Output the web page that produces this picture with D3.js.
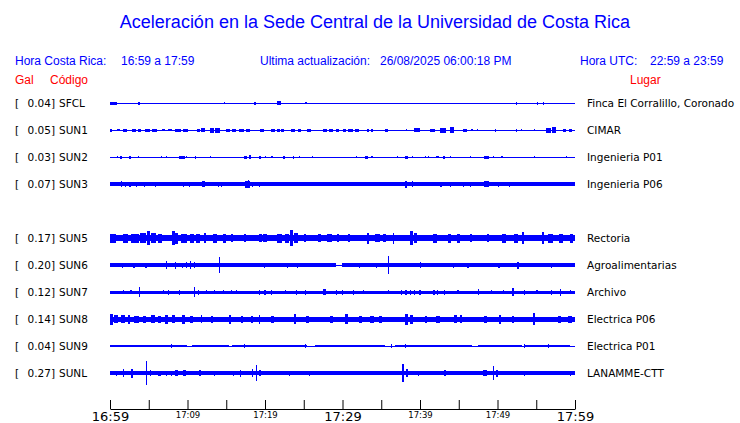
<!DOCTYPE html>
<html>
<head>
<meta charset="utf-8">
<script src="https://cdn.jsdelivr.net/npm/d3@7"></script>
<style>
  body { margin: 0; background: #fff; }
  svg { display: block; }
  .head { font-family: "Liberation Sans", Arial, sans-serif; }
  .lab { font-family: "DejaVu Sans", sans-serif; font-size: 10.5px; fill: #000; }
</style>
</head>
<body>
<svg id="chart" width="740" height="423"></svg>
<script>
// estaciones en el orden del grafico (SUN4 no tiene registro)
const slots = ["SFCL", "SUN1", "SUN2", "SUN3", "SUN4", "SUN5", "SUN6", "SUN7", "SUN8", "SUN9", "SUNL"];
const codes = ["SFCL", "SUN1", "SUN2", "SUN3", "SUN5", "SUN6", "SUN7", "SUN8", "SUN9", "SUNL"];
const gal = [0.04, 0.05, 0.03, 0.07, 0.17, 0.20, 0.12, 0.14, 0.04, 0.27];
const places = ["Finca El Corralillo, Coronado", "CIMAR", "Ingenieria P01", "Ingenieria P06",
  "Rectoria", "Agroalimentarias", "Archivo", "Electrica P06", "Electrica P01", "LANAMME-CTT"];

// amplitud de fondo de cada traza
const baseAmp = [0.5, 0.5, 0.5, 1.6, 3.3, 1.6, 1.5, 2.5, 1.1, 1.7];

// tramos tranquilos [minuto inicio, minuto fin]
const quietSun6 = [[29.2, 29.9]];
const quietSun9 = [[9.9, 10.6], [15.3, 15.7], [25.4, 26.5], [35.5, 36.8], [46.7, 47.5], [53.1, 53.6], [59.4, 60]];

// picos: [minuto, amplitud, duracion en minutos]
const sfclBursts = [[0.5, 1.5, 0.9], [3.74, 1.5], [14.8, 1], [18.7, 1.5], [21.8, 2, 0.5], [25.3, 1],
  [52.5, 1.5], [55.2, 1.5], [55.9, 1.5]];
const sun1Bursts = [[0.13, 1.5], [1.08, 1, 0.43], [1.94, 1.5, 0.43], [3.1, 1.5, 0.5], [3.8, 1.5, 0.5],
  [4.8, 1.5, 0.6], [5.7, 1.5, 0.6], [6.88, 1, 0.43], [7.74, 1, 0.43], [8.8, 1.5, 0.7], [9.7, 1.5, 0.6],
  [11.4, 1.5, 0.43], [12.0, 2, 0.43], [13.2, 2.5, 0.5], [13.9, 2.5, 0.6], [15.2, 1.5, 0.5], [16.0, 1.5, 0.6],
  [17.0, 1.5, 0.7], [17.8, 1.5, 0.6], [19.6, 1.5, 0.43], [21.0, 1.5, 0.5], [21.7, 1.5, 0.4], [22.3, 1.5, 0.4],
  [23.6, 1.5, 0.6], [24.4, 1.5, 0.4], [25.7, 1.5, 0.5], [27.7, 1.5, 0.5], [28.5, 1.5, 0.6], [29.3, 1.5, 0.4],
  [30.3, 1.5, 0.4], [31.0, 1.5, 0.6], [31.9, 1.5, 0.5], [33.3, 1.5], [33.8, 1.5], [35.7, 1.5, 0.43],
  [38.3, 1], [39.6, 2, 0.86], [41.6, 1.5, 0.6], [43.0, 2.5, 0.8], [44.1, 3, 0.5], [45.8, 1.5, 0.43],
  [46.7, 1, 0.2], [47.4, 1, 0.2], [49.7, 1.5], [52.5, 1.5], [53.1, 1], [54.8, 1], [56.6, 2.5, 0.6],
  [57.3, 3, 0.5], [58.7, 1.5, 0.4], [59.4, 1.5, 0.3]];
const sun2Bursts = [[1.0, 1], [1.42, 1.5], [2.58, 1.5], [3.66, 1], [6.67, 1], [7.3, 1], [9.3, 1.5, 0.8],
  [9.9, 1], [11.05, 1.5], [13.0, 1], [17.5, 1.5, 0.4], [18.1, 2, 0.3], [19.35, 1.5], [20.1, 1], [20.9, 1],
  [22.45, 1.5], [23.65, 1.5], [24.5, 1], [26.1, 1], [31.8, 1], [33.1, 1.5, 0.3], [33.8, 1], [37.1, 1],
  [38.2, 1.5, 0.4], [39.0, 1], [40.7, 1], [41.1, 1], [42.2, 1], [42.4, 1], [43.1, 1.5, 0.3], [43.9, 1],
  [46.5, 1], [48.6, 1.5, 0.6], [49.5, 1], [50.6, 1, 0.3], [54.75, 1], [58.9, 1]];
const sun3Bursts = [[1.5, 3], [2.0, 2.5], [2.6, 2.5, 0.3], [3.4, 2.5], [4.5, 2.5], [5.9, 2.5], [9.5, 2.5],
  [10.3, 2.5], [12.1, 3, 0.35], [14.0, 2.5], [14.4, 2.5], [17.7, 3.5, 0.6], [17.9, 4], [18.4, 2.5],
  [19.3, 2.5], [38.2, 3.5], [39.0, 3], [42.7, 2.5], [43.9, 2.5], [45.6, 2.5], [46.5, 2.5], [48.6, 3, 0.6],
  [50.1, 2.5], [51.5, 2.5]];
const sun5Bursts = [[0.4, 4.5, 0.8], [2.0, 4.5, 0.6], [3.2, 4.5, 1.0], [4.3, 5, 0.8], [4.95, 7, 0.3],
  [5.6, 5, 0.6], [6.5, 4.5, 0.5], [8.2, 7, 0.3], [8.6, 5.5, 0.4], [9.5, 4.5, 0.8], [10.6, 4.5, 0.6],
  [11.3, 4.5, 0.5], [12.3, 5, 0.3], [13.6, 4.5, 0.5], [14.8, 4.5, 0.4], [15.7, 4, 0.3], [17.4, 4, 0.3],
  [19.4, 4, 0.3], [20.0, 4, 0.4], [21.9, 4.5, 0.6], [22.8, 4.5, 0.5], [23.4, 8, 0.3], [24.0, 5, 0.4],
  [25.2, 4, 0.3], [27.0, 4, 0.4], [28.3, 4, 0.6], [29.4, 4, 0.3], [30.8, 4, 0.3], [33.3, 5.5, 0.2],
  [34.5, 4, 0.6], [35.4, 4, 0.3], [36.6, 5.5, 0.2], [38.9, 7, 0.3], [39.4, 5, 0.4], [41.9, 4.5, 0.5],
  [43.8, 4.5, 0.5], [45.0, 4.5, 0.4], [46.6, 4, 0.3], [48.8, 4, 0.3], [50.8, 4.5, 0.5], [52.4, 4.5, 0.5],
  [53.3, 6, 0.2], [55.9, 6, 0.2], [56.8, 4.5, 0.6], [58.2, 4.5, 0.5], [59.5, 4.5, 0.4]];
const sun6Bursts = [[1.6, 2.5], [3.1, 2.5], [4.65, 2.5], [7.3, 4], [8.5, 3.5], [9.4, 2.5], [9.85, 3],
  [10.4, 4], [10.9, 3], [14.1, 8], [19.9, 2.5], [22.9, 2.5], [24.2, 2.5], [26.5, 2], [32.2, 2.5],
  [34.4, 2.5], [35.9, 9], [40.1, 3], [44.3, 2.5], [46.2, 2.5], [50.2, 2.5], [52.6, 3.5, 0.25], [57.0, 2.5]];
const sun7Bursts = [[1.7, 2], [2.7, 2], [3.8, 5], [6.9, 2], [7.5, 2.5], [9.0, 2.5], [10.9, 5, 0.2],
  [11.4, 2.5], [12.5, 2], [13.5, 2], [14.6, 2], [15.7, 2], [16.3, 2], [19.3, 2.5], [20.0, 2.5], [20.8, 2.5],
  [22.6, 2], [24.1, 2.5], [25.2, 2.5], [27.7, 3, 0.4], [29.2, 2.5], [30.0, 2.5], [31.4, 2.5], [32.7, 2],
  [35.9, 2], [37.6, 2.5], [38.2, 2.5], [38.8, 2.5], [39.3, 2.5], [40.0, 2.5], [41.8, 2.5], [42.3, 2.5],
  [43.2, 2.5], [44.9, 2], [47.5, 3], [49.2, 2], [50.8, 2], [52.0, 4], [53.5, 2.5], [55.1, 2], [57.0, 2.5],
  [58.1, 3.5], [59.4, 2]];
const sun8Bursts = [[0.2, 5.5, 0.3], [0.8, 4, 0.5], [1.7, 4, 0.5], [2.45, 4.5, 0.2], [3.4, 3.5, 0.6],
  [4.4, 3.5, 0.4], [5.6, 4, 0.5], [6.4, 3.5, 0.4], [7.3, 4.5, 0.3], [8.2, 4, 0.4], [9.5, 4.5, 0.3],
  [10.5, 3.5, 0.4], [11.8, 4, 0.2], [13.2, 3.5, 0.3], [15.5, 4.5, 0.3], [17.0, 3.5, 0.3], [18.3, 3.5, 0.3],
  [19.3, 4.5, 0.2], [21.0, 3.5, 0.4], [23.9, 5, 0.3], [25.5, 3.5, 0.3], [28.6, 3.5, 0.3], [30.5, 5, 0.4],
  [32.3, 3.5, 0.4], [33.8, 3.5, 0.4], [34.9, 3.5, 0.3], [38.3, 5.5, 0.4], [38.9, 4.5, 0.3], [40.8, 3.5, 0.3],
  [42.3, 3.5, 0.5], [44.6, 4, 0.4], [45.3, 4, 0.3], [48.4, 3.5, 0.4], [50.3, 4.5, 0.3], [52.0, 3.5, 0.3],
  [54.7, 6], [58.0, 3.5, 0.4], [59.3, 3.5, 0.5]];
const sun9Bursts = [[7.96, 1.6], [17.4, 1.6], [25.2, 1.6], [36.3, 1.6], [38.1, 1.6], [53.5, 1.6], [56.6, 1.6]];
const sunlBursts = [[0.86, 2.5], [1.72, 4], [2.8, 4.5, 0.3], [4.73, 12], [5.2, 3], [6.4, 2.5, 0.3],
  [7.3, 2.5], [7.9, 2.5], [8.6, 3, 0.4], [9.6, 3, 0.4], [11.6, 3, 0.2], [13.5, 2.5], [14.6, 2],
  [15.9, 2.5], [16.8, 3.5], [18.4, 4, 0.2], [18.9, 8], [19.35, 3], [23.2, 2.5], [25.7, 2.5], [30.1, 2],
  [31.2, 2], [33.3, 2], [34.6, 2], [37.8, 9], [38.3, 4, 0.3], [39.8, 2.5], [43.2, 3, 0.2], [45.6, 2],
  [48.4, 3, 0.6], [49.5, 7], [49.9, 3.5, 0.3], [52.3, 2], [53.5, 2.5], [55.3, 2], [57.0, 2], [59.4, 2.5]];

const bursts = [sfclBursts, sun1Bursts, sun2Bursts, sun3Bursts, sun5Bursts, sun6Bursts,
  sun7Bursts, sun8Bursts, sun9Bursts, sunlBursts];
const quiet = [[], [], [], [], [], quietSun6, [], [], quietSun9, []];

const tickMinutes = [0, 5, 10, 15, 20, 25, 30, 35, 40, 45, 50, 55, 60];
const tickLabels = ["16:59", "", "17:09", "", "17:19", "", "17:29", "", "17:39", "", "17:49", "", "17:59"];
const bigLabels = ["16:59", "17:29", "17:59"];

const svg = d3.select("#chart");
const blue = "#0000ff", red = "#ff0000";

const x = d3.scaleLinear().domain([0, 60]).range([110, 575]);
const row = d3.scalePoint().domain(slots).range([103, 373]);
const amp = d3.scaleLinear().domain([-13.5, 13.5]).range([13.5, -13.5]);

// encabezado
svg.append("text").attr("class", "head").attr("x", 375).attr("y", 28)
  .attr("text-anchor", "middle").attr("font-size", 18).attr("fill", blue)
  .text("Aceleración en la Sede Central de la Universidad de Costa Rica");

const heads = [
  [15, "Hora Costa Rica:"], [121, "16:59 a 17:59"],
  [260, "Ultima actualización:"], [380, "26/08/2025 06:00:18 PM"],
  [580, "Hora UTC:"], [650, "22:59 a 23:59"]
];
svg.selectAll("text.h1").data(heads).enter().append("text")
  .attr("class", "head h1").attr("x", d => d[0]).attr("y", 65)
  .attr("font-size", 12).attr("fill", blue).text(d => d[1]);

svg.selectAll("text.h2").data([[15, "Gal"], [50, "Código"], [630, "Lugar"]]).enter().append("text")
  .attr("class", "head h2").attr("x", d => d[0]).attr("y", 84)
  .attr("font-size", 12).attr("fill", red).text(d => d[1]);

// trazas
codes.forEach(function (code, i) {
  let g = svg.append("g").attr("transform", "translate(0," + row(code) + ")");

  g.append("text").attr("class", "lab").attr("x", 15).attr("y", 4).text("[");
  g.append("text").attr("class", "lab").attr("x", 55).attr("y", 4)
    .attr("text-anchor", "end").text(gal[i].toFixed(2) + "]");
  g.append("text").attr("class", "lab").attr("x", 59).attr("y", 4).text(code);
  g.append("text").attr("class", "lab").attr("x", 587).attr("y", 4).text(places[i]);

  // fondo dividido por tramos tranquilos
  let segs = [];
  let start = 0;
  quiet[i].forEach(function (q) {
    segs.push([start, q[0], baseAmp[i]]);
    segs.push([q[0], q[1], 0.5]);
    start = q[1];
  });
  if (start < 60) segs.push([start, 60, baseAmp[i]]);

  g.selectAll("rect.base").data(segs).enter().append("rect")
    .attr("class", "base")
    .attr("x", d => x(d[0]))
    .attr("width", d => x(d[1]) - x(d[0]))
    .attr("y", d => amp(d[2]))
    .attr("height", d => Math.max(1, amp(-d[2]) - amp(d[2])))
    .attr("fill", blue).attr("shape-rendering", "crispEdges");

  g.selectAll("rect.burst").data(bursts[i]).enter().append("rect")
    .attr("class", "burst")
    .attr("x", d => x(Math.max(0, d[0] - (d[2] || 0.15) / 2)))
    .attr("width", d => Math.max(1, x(d[0] + (d[2] || 0.15) / 2) - x(d[0] - (d[2] || 0.15) / 2)))
    .attr("y", d => amp(d[1]))
    .attr("height", d => amp(-d[1]) - amp(d[1]))
    .attr("fill", blue).attr("shape-rendering", "crispEdges");
});

// eje de tiempo
const axis = d3.axisBottom(x)
  .tickValues(tickMinutes)
  .tickSizeInner(-9)
  .tickSizeOuter(0)
  .tickPadding(3)
  .tickFormat((d, i) => tickLabels[i]);

const ax = svg.append("g").attr("transform", "translate(0,409)").call(axis);
ax.select(".domain").attr("stroke", "#000");
ax.selectAll(".tick line").attr("stroke", "#000");
ax.selectAll(".tick text")
  .attr("font-family", "DejaVu Sans, sans-serif")
  .attr("fill", "#000")
  .attr("dy", null)
  .attr("y", function (d, i) { return bigLabels.includes(tickLabels[i]) ? 12 : 8.5; })
  .attr("font-size", function (d, i) { return bigLabels.includes(tickLabels[i]) ? 13 : 8.5; });
</script>
</body>
</html>
